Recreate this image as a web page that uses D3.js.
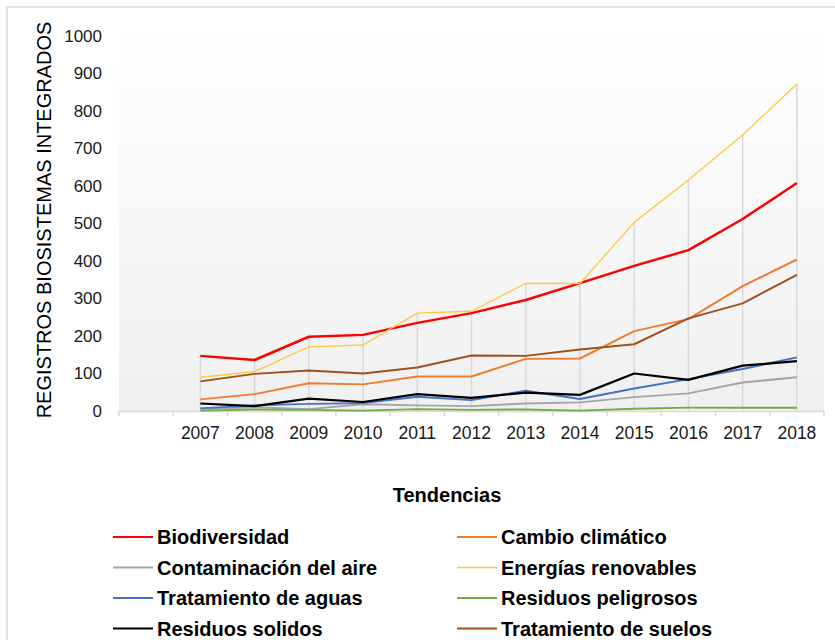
<!DOCTYPE html>
<html lang="es">
<head>
  <meta charset="UTF-8" />
  <title>Tendencias - registros biosistemas integrados</title>
  <script src="https://d3js.org/d3.v7.min.js"></script>
  <style>
    body { margin: 0; background: #fff; font-family: "Liberation Sans", Arial, sans-serif; }
    svg { display: block; }
    .tick-label { font-size: 17px; fill: #1a1a1a; }
    .axis-title { font-size: 20px; fill: #000; }
    .legend-text { font-size: 20px; font-weight: bold; fill: #000; }
  </style>
</head>
<body>

<svg width="835" height="640"></svg>

<script>
  const years = ["2007", "2008", "2009", "2010", "2011", "2012", "2013", "2014", "2015", "2016", "2017", "2018"];
  const yTicks = [0, 100, 200, 300, 400, 500, 600, 700, 800, 900, 1000];

  // valeurs
  const biodiversidad   = [147, 136, 198, 203, 235, 261, 296, 341, 387, 429, 512, 608];
  const cambioClimatico = [31, 45, 74, 71, 92, 92, 139, 140, 213, 245, 333, 404];
  const contaminacion   = [6, 10, 5, 18, 15, 13, 20, 23, 37, 47, 76, 90];
  const energias        = [90, 105, 171, 176, 261, 266, 340, 340, 503, 616, 736, 872];
  const aguas           = [7, 15, 19, 21, 38, 29, 54, 32, 60, 85, 112, 143];
  const peligrosos      = [1, 4, 3, 1, 5, 3, 4, 1, 6, 9, 9, 9];
  const solidos         = [20, 13, 33, 24, 45, 35, 49, 43, 100, 83, 121, 133];
  const suelos          = [79, 99, 108, 100, 116, 148, 147, 164, 178, 247, 287, 363];

  const series = [
    {name: "Biodiversidad", values: biodiversidad, color: "#ff0000", w: 2.5},
    {name: "Cambio climático", values: cambioClimatico, color: "#ed7d31", w: 2},
    {name: "Contaminación del aire", values: contaminacion, color: "#a5a5a5", w: 2},
    {name: "Energías renovables", values: energias, color: "#ffc83d", w: 1.3},
    {name: "Tratamiento de aguas", values: aguas, color: "#4472c4", w: 2},
    {name: "Residuos peligrosos", values: peligrosos, color: "#70ad47", w: 2},
    {name: "Residuos solidos", values: solidos, color: "#000000", w: 2.25},
    {name: "Tratamiento de suelos", values: suelos, color: "#a0501a", w: 2}
  ];

  const svg = d3.select("svg");
  const plotL = 119, plotR = 824, plotT = 36, plotB = 411;

  // frame
  svg.append("rect")
     .attr("x", 7).attr("y", 7)
     .attr("width", 840).attr("height", 650)
     .attr("fill", "#fff")
     .attr("stroke", "#d9d9d9")
     .attr("stroke-width", 1.5);

  const x = d3.scaleBand()
              .domain([""].concat(years))
              .range([plotL, plotR])
              .padding(0);

  const y = d3.scaleLinear()
              .domain([0, 1000])
              .range([plotB, plotT]);

  // plot background gradient
  const grad = svg.append("defs").append("linearGradient")
                  .attr("id", "bg").attr("x1", 0).attr("y1", 0).attr("x2", 0).attr("y2", 1);
  grad.append("stop").attr("offset", "0%").attr("stop-color", "#ffffff");
  grad.append("stop").attr("offset", "100%").attr("stop-color", "#f0f0f0");

  svg.append("rect")
     .attr("x", plotL).attr("y", plotT - 6)
     .attr("width", plotR - plotL).attr("height", plotB - plotT + 6)
     .attr("fill", "url(#bg)");

  // drop lines
  svg.append("g")
     .selectAll("line")
     .data(years)
     .join("line")
     .attr("x1", d => x(d) + x.bandwidth() / 2)
     .attr("x2", d => x(d) + x.bandwidth() / 2)
     .attr("y1", (d, i) => y(d3.max(series, s => s.values[i])))
     .attr("y2", y(0))
     .attr("stroke", "#d9d9d9")
     .attr("stroke-width", 1.5);

  // x axis
  const xAxis = svg.append("g")
                   .attr("transform", `translate(0,${plotB})`)
                   .call(d3.axisBottom(x).tickSize(0).tickPadding(16));
  xAxis.attr("font-family", null).attr("font-size", null);
  xAxis.select(".domain").attr("stroke", "#d9d9d9").attr("stroke-width", 1.5);
  xAxis.selectAll(".tick text")
       .attr("class", "tick-label")
       .style("font-size", "17.5px");

  xAxis.selectAll(".bound")
       .data(x.domain().concat(["end"]))
       .join("line")
       .attr("class", "bound")
       .attr("x1", (d, i) => plotL + i * x.bandwidth())
       .attr("x2", (d, i) => plotL + i * x.bandwidth())
       .attr("y1", 0).attr("y2", 5)
       .attr("stroke", "#d9d9d9")
       .attr("stroke-width", 1.5);

  // y axis (labels only)
  const yAxis = svg.append("g")
                   .attr("transform", `translate(${plotL},0)`)
                   .call(d3.axisLeft(y).tickValues(yTicks).tickFormat(d3.format("d")).tickSize(0).tickPadding(17));
  yAxis.attr("font-family", null).attr("font-size", null);
  yAxis.select(".domain").remove();
  yAxis.selectAll(".tick text")
       .attr("class", "tick-label");

  svg.append("text")
     .attr("class", "axis-title")
     .attr("transform", "translate(51,220) rotate(-90)")
     .attr("text-anchor", "middle")
     .text("REGISTROS BIOSISTEMAS INTEGRADOS");

  // lines
  const line = d3.line()
                 .x((d, i) => x(years[i]) + x.bandwidth() / 2)
                 .y(d => y(d));

  svg.append("g")
     .selectAll("path")
     .data(series)
     .join("path")
     .attr("d", d => line(d.values))
     .attr("fill", "none")
     .attr("stroke", d => d.color)
     .attr("stroke-width", d => d.w)
     .attr("stroke-linejoin", "round");

  // legend
  svg.append("text")
     .attr("class", "legend-text")
     .attr("x", 447).attr("y", 502)
     .attr("text-anchor", "middle")
     .text("Tendencias");

  const legend = svg.append("g");
  series.forEach((s, i) => {
    const col = i % 2, row = Math.floor(i / 2);
    const lx = col === 0 ? 113 : 457;
    const ly = 537 + row * 30.5;
    legend.append("line")
          .attr("x1", lx).attr("x2", lx + 40)
          .attr("y1", ly).attr("y2", ly)
          .attr("stroke", s.color)
          .attr("stroke-width", Math.min(s.w, 2));
    legend.append("text")
          .attr("class", "legend-text")
          .attr("x", lx + 44)
          .attr("y", ly + 7)
          .text(s.name);
  });
</script>

</body>
</html>
